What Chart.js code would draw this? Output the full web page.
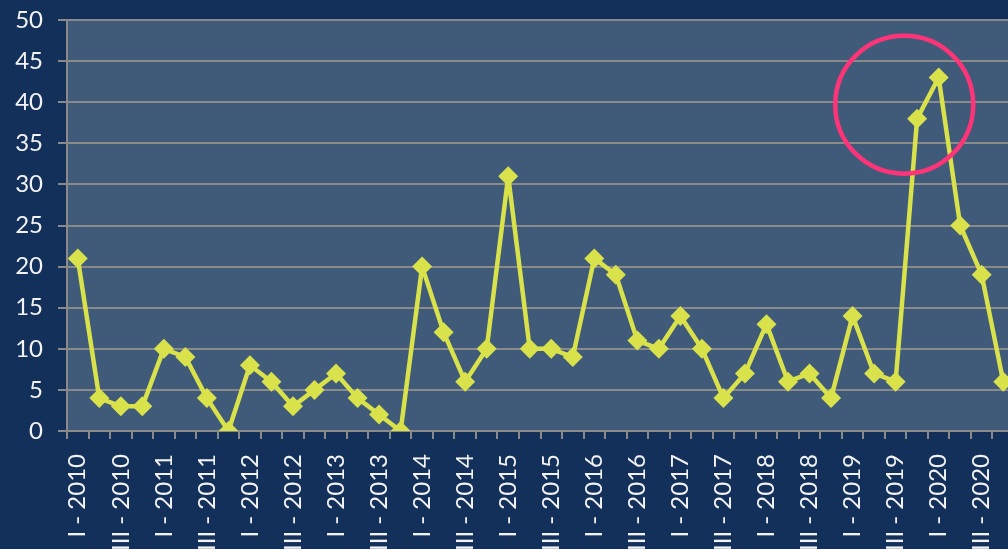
<!DOCTYPE html>
<html>
<head>
<meta charset="utf-8">
<script src="https://cdn.jsdelivr.net/npm/chart.js@4/dist/chart.umd.min.js"></script>
<style>
  html, body { margin: 0; padding: 0; background: #12305a; overflow: hidden; }
  #wrap { width: 1008px; height: 549px; overflow: hidden; position: relative; }
  canvas { display: block; }
</style>
</head>
<body>
<div id="wrap"><canvas id="chart" width="1024" height="549"></canvas></div>
<script>
const years = [2010, 2011, 2012, 2013, 2014, 2015, 2016, 2017, 2018, 2019, 2020];
const quarters = ['I', 'II', 'III', 'IV'];
const values = [
  21, 4, 3, 3,
  10, 9, 4, 0,
  8, 6, 3, 5,
  7, 4, 2, 0,
  20, 12, 6, 10,
  31, 10, 10, 9,
  21, 19, 11, 10,
  14, 10, 4, 7,
  13, 6, 7, 4,
  14, 7, 6, 38,
  43, 25, 19, 6
];
const yTicks = [0, 5, 10, 15, 20, 25, 30, 35, 40, 45, 50];

const labels = [];
years.forEach(y => quarters.forEach(q => labels.push(q + ' - ' + y)));

const plotBg = {
  id: 'plotBg',
  beforeDraw(chart) {
    const {ctx, chartArea: a} = chart;
    ctx.save();
    ctx.fillStyle = '#405b7a';
    ctx.fillRect(a.left, a.top, a.right - a.left, a.bottom - a.top);
    ctx.restore();
  }
};

// red ring marking the 2019/2020 peak
const ring = {
  id: 'ring',
  afterDatasetsDraw(chart) {
    const ctx = chart.ctx;
    const x = chart.scales.x.getPixelForValue(38.4);
    const y = chart.scales.y.getPixelForValue(39.7);
    ctx.save();
    ctx.strokeStyle = '#fe3478';
    ctx.lineWidth = 4.5;
    ctx.beginPath();
    ctx.arc(x, y, 69, 0, Math.PI * 2);
    ctx.stroke();
    ctx.restore();
  }
};

Chart.defaults.font.family = 'Lato';
Chart.defaults.font.size = 24;
Chart.defaults.color = '#f2f2f2';

new Chart(document.getElementById('chart'), {
  type: 'line',
  data: {
    labels: labels,
    datasets: [{
      data: values,
      borderColor: '#d9e24a',
      backgroundColor: '#d9e24a',
      borderWidth: 4.5,
      borderJoinStyle: 'round',
      pointStyle: 'rectRot',
      pointRadius: 10,
      pointBorderWidth: 0,
      tension: 0
    }]
  },
  options: {
    responsive: false,
    animation: false,
    devicePixelRatio: 1,
    layout: { padding: { top: 20, right: 0, left: 0, bottom: 0 } },
    plugins: { legend: { display: false }, tooltip: { enabled: false } },
    scales: {
      x: {
        offset: true,
        afterFit(s) {
          s.height = 118;
          s.paddingLeft = 0;
          s.paddingRight = 0;
        },
        grid: {
          offset: true,
          drawOnChartArea: false,
          color: '#8a8a8a',
          lineWidth: 2,
          tickLength: 8
        },
        border: { color: '#8a8a8a', width: 2 },
        ticks: {
          autoSkip: false,
          minRotation: 90,
          maxRotation: 90,
          padding: 15,
          callback(v, i) { return i % 2 === 0 ? labels[i] : ''; }
        }
      },
      y: {
        min: 0,
        max: 50,
        afterFit(s) {
          s.width = 67;
          s.paddingTop = 0;
          s.paddingBottom = 0;
        },
        afterBuildTicks(s) { s.ticks = yTicks.map(v => ({value: v})); },
        grid: { color: '#8a8a8a', lineWidth: 2, tickLength: 9 },
        border: { color: '#8a8a8a', width: 2 },
        ticks: { padding: 15 }
      }
    }
  },
  plugins: [plotBg, ring]
});
</script>
</body>
</html>
